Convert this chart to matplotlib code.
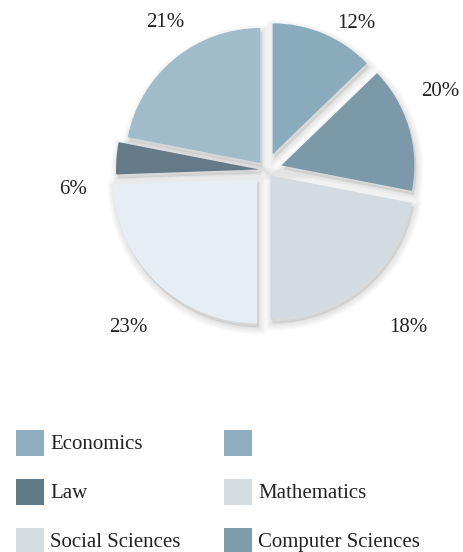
import matplotlib
matplotlib.use("Agg")
import matplotlib.pyplot as plt
from matplotlib import font_manager
import numpy as np
from matplotlib.patches import Wedge, Rectangle

# slices clockwise from 12 o'clock; angular shares
slice_labels = ["12%", "20%", "18%", "23%", "6%", "21%"]
slice_share = [46, 55, 79, 88, 13, 79]
slice_colors = ["#8aabbc", "#7c99aa", "#d3dbe0", "#e6eef3", "#647a89", "#a0bccb"]
slice_radius = [131, 133, 144, 144, 143, 135]
slice_explode = [17, 16, 7, 13, 7, 9]
label_angle = [57.8, 23.3, 311.6, 229.4, 186.8, 124.9]
label_dist = [170, 190, 214, 212, 194, 176]

legend_labels = ["Economics", "", "Law", "Mathematics", "Social Sciences", "Computer Sciences"]
legend_colors = ["#8eaebf", "#8eaebf", "#607a88", "#d3dce1", "#d3dce1", "#7f9caa"]

names = {f.name for f in font_manager.fontManager.ttflist}
serif = [n for n in ["Liberation Serif", "Noto Serif", "DejaVu Serif"] if n in names]
FONT = serif if serif else ["serif"]

W, H = 464, 552
CX, CY = 266, H - 170

fig = plt.figure(figsize=(W / 100, H / 100), dpi=100)
ax = fig.add_axes([0, 0, 1, 1])

wedges, _ = ax.pie(
    slice_share,
    colors=slice_colors,
    startangle=90,
    counterclock=False,
    explode=slice_explode,
    radius=140,
    center=(CX, CY),
    wedgeprops={"linewidth": 0},
)
for w, r in zip(wedges, slice_radius):
    w.set_radius(r)
    w.set_zorder(3)
    # soft drop shadow: faint face plus stacked faint strokes
    cx, cy = w.center
    sc = (cx + 2, cy - 4)
    ax.add_patch(Wedge(sc, r, w.theta1, w.theta2, facecolor=(0, 0, 0, 0.08),
                       edgecolor="none", zorder=1))
    for lw in np.arange(1.5, 12, 1.5):
        ax.add_patch(Wedge(sc, r, w.theta1, w.theta2, facecolor="none",
                           edgecolor=(0, 0, 0, 0.014), linewidth=lw, zorder=1))

for txt, ang, d in zip(slice_labels, label_angle, label_dist):
    t = np.deg2rad(ang)
    ax.text(CX + d * np.cos(t), (H - 167) + d * np.sin(t), txt, ha="center", va="center",
            fontsize=15, family=FONT, color="#222222")

ax.set_xlim(0, W)
ax.set_ylim(0, H)
ax.set_aspect("equal")
ax.axis("off")

# legend: two columns, row-major
for i, (lab, col) in enumerate(zip(legend_labels, legend_colors)):
    row, c = divmod(i, 2)
    x0 = 16 + c * 208
    yc = H - (443 + row * 49)
    ax.add_patch(Rectangle((x0, yc - 13), 28, 26, facecolor=col, edgecolor="none"))
    ax.text(x0 + 34, yc - 6, lab, ha="left", va="baseline", fontsize=15,
            family=FONT, color="#222222")

fig.savefig("out.png", dpi=100)
